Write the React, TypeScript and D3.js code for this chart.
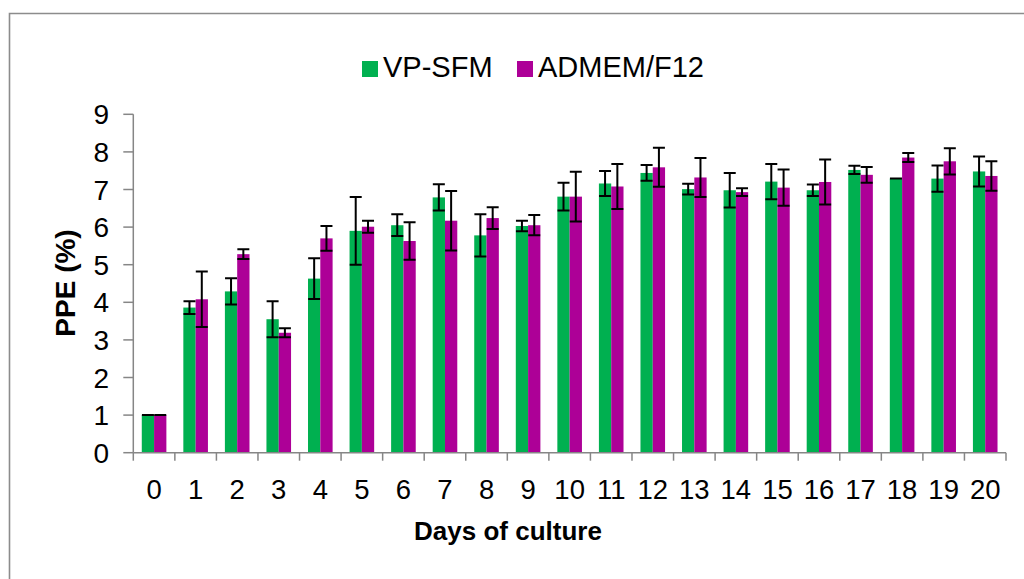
import React from "react";
import * as d3 from "d3";

const days = ["0","1","2","3","4","5","6","7","8","9","10","11","12","13","14","15","16","17","18","19","20"];
const seriesNames = ["VP-SFM", "ADMEM/F12"];
const vpsfm = [1.0, 3.86, 4.29, 3.55, 4.63, 5.9, 6.05, 6.79, 5.78, 6.03, 6.81, 7.16, 7.44, 7.01, 6.98, 7.21, 6.98, 7.52, 7.29, 7.29, 7.48];
const vpsfmErr = [0, 0.17, 0.35, 0.48, 0.54, 0.9, 0.29, 0.35, 0.56, 0.14, 0.37, 0.33, 0.21, 0.14, 0.46, 0.47, 0.15, 0.11, 0, 0.35, 0.4];
const admem = [1.0, 4.08, 5.28, 3.19, 5.7, 6.01, 5.63, 6.17, 6.24, 6.05, 6.81, 7.08, 7.59, 7.32, 6.93, 7.05, 7.2, 7.39, 7.85, 7.75, 7.36];
const admemErr = [0, 0.74, 0.13, 0.12, 0.33, 0.16, 0.5, 0.79, 0.29, 0.27, 0.66, 0.6, 0.52, 0.52, 0.1, 0.48, 0.6, 0.21, 0.12, 0.35, 0.39];
const yTicks = [0, 1, 2, 3, 4, 5, 6, 7, 8, 9];
const colors = ["#00B050", "#AD0097"];

const W = 1024;
const H = 579;
const FONT = "Liberation Sans, Arial, sans-serif";
const AXIS = "#868686";

export default function App() {
  const x = d3.scaleBand<string>().domain(days).range([133.3, 1006]).padding(0);
  const bw = x.bandwidth();
  const half = 12.3;
  const xs = d3.scaleBand<string>().domain(seriesNames).range([bw / 2 - half, bw / 2 + half]).padding(0);
  const y = d3.scaleLinear().domain([0, 9]).range([452.7, 114.3]);
  const values = [vpsfm, admem];
  const errs = [vpsfmErr, admemErr];
  const capW = 12;
  const [x0, x1] = x.range();
  const boundaries = days.map((d) => x(d) as number).concat([x1]);

  return (
    <svg width={W} height={H} style={{ position: "absolute", left: 0, top: 0, background: "#fff" }} fontFamily={FONT}>
      <rect x={0} y={0} width={W} height={H} fill="#fff" />
      <path d={`M9.5,${H + 5} V13.5 H${W + 5}`} fill="none" stroke="#8c8c8c" strokeWidth={1.6} />

      {/* legend */}
      {seriesNames.map((s, i) => {
        const lx = i === 0 ? 362 : 517;
        return (
          <g key={s}>
            <rect x={lx} y={61} width={16} height={16} fill={colors[i]} />
            <text x={lx + 21} y={77.3} fontSize={29} fill="#000">{s}</text>
          </g>
        );
      })}

      {/* bars */}
      {seriesNames.map((s, si) => (
        <g key={s}>
          {days.map((d, i) => (
            <rect
              key={d}
              x={(x(d) as number) + (xs(s) as number)}
              y={y(values[si][i])}
              width={xs.bandwidth()}
              height={y(0) - y(values[si][i])}
              fill={colors[si]}
            />
          ))}
        </g>
      ))}

      {/* error bars */}
      {seriesNames.map((s, si) => (
        <g key={s} stroke="#000" strokeWidth={2} fill="none">
          {days.map((d, i) => {
            const cx = (x(d) as number) + (xs(s) as number) + xs.bandwidth() / 2;
            const v = values[si][i];
            const e = errs[si][i];
            const yt = y(v + e);
            const yb = y(v - e);
            return (
              <path
                key={d}
                d={`M${cx},${yt} V${yb} M${cx - capW / 2},${yt} H${cx + capW / 2} M${cx - capW / 2},${yb} H${cx + capW / 2}`}
              />
            );
          })}
        </g>
      ))}

      {/* y axis */}
      <g>
        <line x1={x0} x2={x0} y1={y(9)} y2={y(0)} stroke={AXIS} strokeWidth={1.5} />
        {yTicks.map((t) => (
          <g key={t}>
            <line x1={x0 - 10} x2={x0} y1={y(t)} y2={y(t)} stroke={AXIS} strokeWidth={1.5} />
            <text x={109} y={y(t)} dy="0.36em" textAnchor="end" fontSize={28} fill="#000">{t}</text>
          </g>
        ))}
      </g>

      {/* x axis */}
      <g>
        <line x1={x0} x2={x1} y1={y(0)} y2={y(0)} stroke={AXIS} strokeWidth={1.5} />
        {boundaries.map((bx, i) => (
          <line key={i} x1={bx} x2={bx} y1={y(0)} y2={y(0) + 8} stroke={AXIS} strokeWidth={1.5} />
        ))}
        {days.map((d) => (
          <text key={d} x={(x(d) as number) + bw / 2} y={499} textAnchor="middle" fontSize={27.5} fill="#000">{d}</text>
        ))}
      </g>

      <text x={508} y={540} textAnchor="middle" fontSize={26} fontWeight="bold" fill="#000">Days of culture</text>
      <text transform="translate(75,283) rotate(-90)" textAnchor="middle" fontSize={28} fontWeight="bold" fill="#000">PPE (%)</text>
    </svg>
  );
}
